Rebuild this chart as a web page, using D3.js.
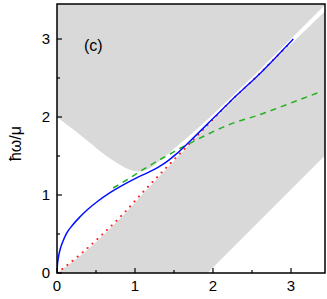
<!DOCTYPE html>
<html>
<head>
<meta charset="utf-8">
<script src="https://cdn.jsdelivr.net/npm/d3@7"></script>
<style>
  body { margin: 0; background: #fff; }
  text { font-family: "Liberation Sans", Arial, sans-serif; }
</style>
</head>
<body>
<div id="graph"></div>
<script>
// upper continuum, lower edge (k, w)
upperEdge = [[0,2.0],[0.19,1.855],[0.4,1.69],[0.615,1.51],[0.72,1.44],[0.85,1.36],[0.95,1.315],[1.02,1.30],[1.1,1.305],[1.19,1.335],[1.32,1.44],[1.53,1.62],[1.7,1.76],[2.0,2.03],[2.6,2.60],[3.44,3.44]]
// lower continuum, top edge and bottom edge
lowerTop = [[0,0],[0.3,0.22],[0.573,0.465],[0.85,0.74],[1.106,1.02],[1.4,1.33],[1.7,1.65],[2.2,2.15],[2.8,2.74],[3.44,3.36]]
lowerBottom = [[0,0],[1.93,0],[3.44,1.51]]
blueK = [0,0.005,0.015,0.038,0.07,0.124,0.2,0.295,0.4,0.51,0.68,0.85,1.02,1.17,1.32,1.43,1.535,1.705,2.0,2.218,2.645,3.03]
blueW = [0,0.1,0.18,0.295,0.39,0.51,0.615,0.72,0.82,0.91,1.03,1.13,1.22,1.29,1.37,1.445,1.53,1.69,1.98,2.196,2.60,3.0]
greenK = [0.72,0.89,1.06,1.21,1.385,1.555,1.875,2.2,2.6,3.0,3.37]
greenW = [1.09,1.19,1.30,1.39,1.49,1.585,1.75,1.90,2.03,2.18,2.32]
redK = [0,0.3,0.573,0.85,1.106,1.4,1.7,2.0,2.218,2.51,2.8,3.0]
redW = [0,0.24,0.487,0.76,1.042,1.35,1.66,1.97,2.196,2.47,2.76,2.96]
xTicks = [0,1,2,3]
yTicks = [0,1,2,3]

var margin = {top: 4, right: 2, bottom: 26, left: 57}
  , width = 268
  , height = 269

var xScale = d3.scaleLinear().domain([0, 268/78]).range([0, width])
var yScale = d3.scaleLinear().domain([0, 269/78]).range([height, 0])

var svg = d3.select("#graph").append("svg")
    .attr("width", 327)
    .attr("height", 299)
  .append("g")
    .attr("transform", "translate(" + margin.left + "," + margin.top + ")")

svg.append("clipPath").attr("id", "clip")
  .append("rect").attr("width", width).attr("height", height)

var plot = svg.append("g").attr("clip-path", "url(#clip)")

// upper grey region
var upArea = d3.area()
    .x(function(d) { return xScale(d[0]) })
    .y0(function(d) { return yScale(d[1]) })
    .y1(function(d) { return 0 })
    .curve(d3.curveBasis)
plot.append("path").datum(upperEdge).attr("d", upArea).attr("fill", "#d9d9d9")

// lower grey region: polygon from top edge and bottom edge
var lowLine = d3.line()
    .x(function(d) { return xScale(d[0]) })
    .y(function(d) { return yScale(d[1]) })
    .curve(d3.curveMonotoneX)
var topPath = lowLine(lowerTop)
var botPts = lowerBottom.slice().reverse().map(function(d) { return xScale(d[0]) + "," + yScale(d[1]) })
plot.append("path")
    .attr("d", topPath + "L" + botPts.join("L") + "Z")
    .attr("fill", "#d9d9d9")

var line = d3.line()
    .x(function(d) { return xScale(d[0]) })
    .y(function(d) { return yScale(d[1]) })
    .curve(d3.curveMonotoneX)

plot.append("path")
    .datum(redK.map(function(k, i) { return [k, redW[i]] }))
    .attr("d", line)
    .attr("fill", "none")
    .attr("stroke", "#ff2020")
    .attr("stroke-width", 2)
    .attr("stroke-linecap", "round")
    .attr("stroke-dasharray", "0.1,6.5")

plot.append("path")
    .datum(greenK.map(function(k, i) { return [k, greenW[i]] }))
    .attr("d", line)
    .attr("fill", "none")
    .attr("stroke", "#22b020")
    .attr("stroke-width", 1.5)
    .attr("stroke-dasharray", "6,5")

plot.append("path")
    .datum(blueK.map(function(k, i) { return [k, blueW[i]] }))
    .attr("d", line)
    .attr("fill", "none")
    .attr("stroke", "#0010ff")
    .attr("stroke-width", 1.5)

// frame
svg.append("rect")
    .attr("width", width).attr("height", height)
    .attr("fill", "none").attr("stroke", "#000").attr("stroke-width", 1.5)

// x axis
var xAxis = svg.append("g")
    .attr("transform", "translate(0," + height + ")")
xAxis.selectAll("line.minor").data([0.5,1.5,2.5])
  .enter().append("line")
    .attr("x1", function(d) { return xScale(d) }).attr("x2", function(d) { return xScale(d) })
    .attr("y1", 0).attr("y2", -3).attr("stroke", "#000").attr("stroke-width", 1.2)
xAxis.selectAll("line.major").data(xTicks)
  .enter().append("line")
    .attr("x1", function(d) { return xScale(d) }).attr("x2", function(d) { return xScale(d) })
    .attr("y1", 0).attr("y2", -5).attr("stroke", "#000").attr("stroke-width", 1.2)
xAxis.selectAll("text").data(xTicks)
  .enter().append("text")
    .attr("x", function(d) { return xScale(d) })
    .attr("y", 18)
    .attr("text-anchor", "middle")
    .attr("font-size", 15)
    .text(function(d) { return d })

// y axis
var yAxis = svg.append("g")
yAxis.selectAll("line.minor").data([0.5,1.5,2.5])
  .enter().append("line")
    .attr("y1", function(d) { return yScale(d) }).attr("y2", function(d) { return yScale(d) })
    .attr("x1", 0).attr("x2", 3).attr("stroke", "#000").attr("stroke-width", 1.2)
yAxis.selectAll("line.major").data(yTicks)
  .enter().append("line")
    .attr("y1", function(d) { return yScale(d) }).attr("y2", function(d) { return yScale(d) })
    .attr("x1", 0).attr("x2", 5).attr("stroke", "#000").attr("stroke-width", 1.2)
yAxis.selectAll("text").data(yTicks)
  .enter().append("text")
    .attr("x", -7)
    .attr("y", function(d) { return yScale(d) + 5 })
    .attr("text-anchor", "end")
    .attr("font-size", 15)
    .text(function(d) { return d })

// labels
svg.append("text")
    .attr("transform", "translate(-36," + (height/2 + 5) + ") rotate(-90)")
    .attr("text-anchor", "middle")
    .attr("font-size", 16)
    .text("ħω/μ")

svg.append("text")
    .attr("x", 27).attr("y", 47)
    .attr("font-size", 16)
    .text("(c)")
</script>
</body>
</html>
